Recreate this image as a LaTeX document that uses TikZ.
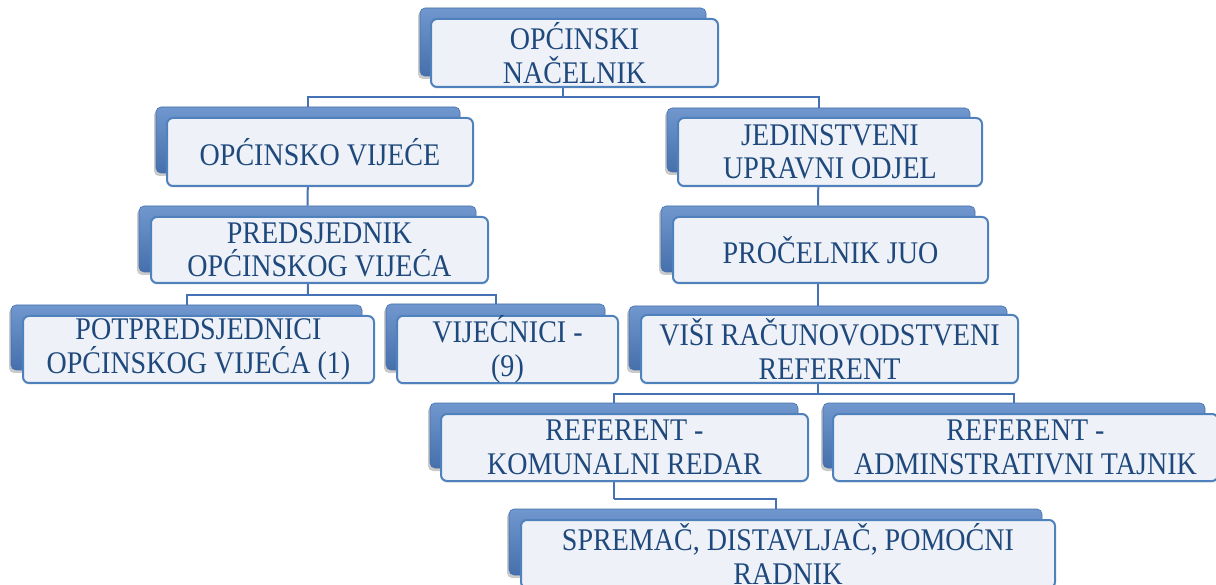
\documentclass[tikz,border=0pt]{standalone}
\usepackage{fontspec}
\setmainfont{Liberation Serif}[FakeStretch=0.89]
\usetikzlibrary{shadows}
\definecolor{backtop}{RGB}{112,151,206}
\definecolor{backbot}{RGB}{70,112,172}
\definecolor{frontfill}{RGB}{238,242,248}
\definecolor{edgeblue}{RGB}{79,129,189}
\definecolor{linkblue}{RGB}{68,114,180}
\definecolor{textblue}{RGB}{31,73,125}
\tikzset{
  backbox/.style={rectangle, rounded corners=5pt, top color=backtop, bottom color=backbot,
    draw=backbot, line width=0.6pt, inner sep=0pt,
    drop shadow={shadow xshift=-2pt, shadow yshift=-3pt, opacity=0.35, fill=black!60}},
  frontbox/.style={rectangle, rounded corners=6pt, fill=frontfill, draw=edgeblue, line width=2pt,
    inner sep=0pt, align=center, text=textblue,
    font=\fontsize{31.5}{33.5}\selectfont,
    drop shadow={shadow xshift=0pt, shadow yshift=-2pt, opacity=0.15, fill=black!40}},
  conn/.style={draw=linkblue, line width=2pt}
}
\begin{document}
\begin{tikzpicture}[x=1pt,y=-1pt]
\useasboundingbox (0,0) rectangle (1216,585);
% helper coordinates for the connector buses
\coordinate (bus1) at (563,97);
\coordinate (bus2) at (308,295);
\coordinate (bus3) at (818,394);
\coordinate (bus4) at (614,499);
% back boxes
\node[backbox, minimum width=286pt, minimum height=68pt] (nacB) at (563,42) {};
\node[backbox, minimum width=304pt, minimum height=66pt] (vijB) at (308,140) {};
\node[backbox, minimum width=303pt, minimum height=64pt] (juoB) at (818.5,140) {};
\node[backbox, minimum width=337pt, minimum height=66pt] (predB) at (307.5,239) {};
\node[backbox, minimum width=314pt, minimum height=66pt] (procB) at (818,239) {};
\node[backbox, minimum width=351pt, minimum height=65pt] (potpB) at (186.5,337.5) {};
\node[backbox, minimum width=219pt, minimum height=66pt] (vijecB) at (495.5,337) {};
\node[backbox, minimum width=378pt, minimum height=64pt] (visiB) at (818,338) {};
\node[backbox, minimum width=368pt, minimum height=65pt] (komB) at (614,435.5) {};
\node[backbox, minimum width=382pt, minimum height=65pt] (admB) at (1014,435.5) {};
\node[backbox, minimum width=533pt, minimum height=66pt] (sprB) at (775.5,542) {};
% connectors (drawn on top of back boxes, below front boxes)
\draw[conn] (nacB.south) -- (bus1);
\draw[conn] (bus1) -| (vijB.north);
\draw[conn] (bus1) -| (juoB.north);
\draw[conn] (vijB.south) -- (predB.north);
\draw[conn] (juoB.south) -- (procB.north);
\draw[conn] (predB.south) -- (bus2);
\draw[conn] (bus2) -| (potpB.north);
\draw[conn] (bus2) -| (vijecB.north);
\draw[conn] (procB.south) -- (visiB.north);
\draw[conn] (visiB.south) -- (bus3);
\draw[conn] (bus3) -| (komB.north);
\draw[conn] (bus3) -| (admB.north);
\draw[conn] (komB.south) -- (bus4);
\draw[conn] (bus4) -| (sprB.north);
% front boxes with text
\node[frontbox, minimum width=287pt, minimum height=68pt] (nac) at (574.5,53) {OPĆINSKI\\NAČELNIK};
\node[frontbox, minimum width=306pt, minimum height=68pt] (vij) at (320,152) {OPĆINSKO VIJEĆE};
\node[frontbox, minimum width=304pt, minimum height=68pt] (juo) at (830,152) {JEDINSTVENI\\UPRAVNI ODJEL};
\node[frontbox, minimum width=337pt, minimum height=66pt] (pred) at (319.5,250) {PREDSJEDNIK\\OPĆINSKOG VIJEĆA};
\node[frontbox, minimum width=315pt, minimum height=66pt] (proc) at (830.5,250) {PROČELNIK JUO};
\node[frontbox, minimum width=351pt, minimum height=67pt] (potp) at (198.5,349.5) {POTPREDSJEDNICI\\OPĆINSKOG VIJEĆA (1)};
\node[frontbox, minimum width=221pt, minimum height=67pt] (vijec) at (507.5,349.5) {VIJEĆNICI -\\(9)};
\node[frontbox, minimum width=377pt, minimum height=68pt] (visi) at (829.5,349) {VIŠI RAČUNOVODSTVENI\\REFERENT};
\node[frontbox, minimum width=367pt, minimum height=67pt] (kom) at (624.5,447.5) {REFERENT -\\KOMUNALNI REDAR};
\node[frontbox, minimum width=385pt, minimum height=67pt] (adm) at (1025.5,447.5) {REFERENT -\\ADMINSTRATIVNI TAJNIK};
\node[frontbox, minimum width=534pt, minimum height=68pt] (spr) at (788,554) {SPREMAČ, DISTAVLJAČ, POMOĆNI\\RADNIK};
\end{tikzpicture}
\end{document}
